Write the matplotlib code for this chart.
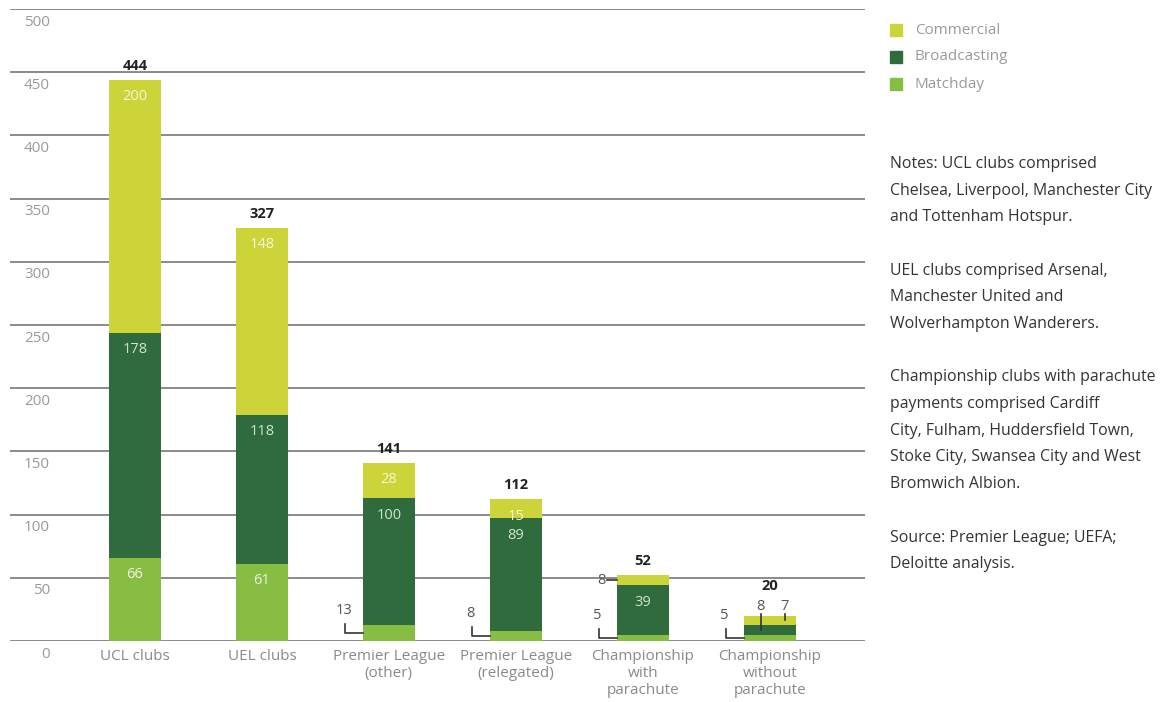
import numpy as np
import matplotlib.pyplot as plt
from matplotlib.transforms import offset_copy, blended_transform_factory

plt.rcParams['font.family'] = ['Open Sans', 'DejaVu Sans']

categories = ['UCL clubs', 'UEL clubs', 'Premier League\n(other)',
              'Premier League\n(relegated)', 'Championship\nwith\nparachute',
              'Championship\nwithout\nparachute']
matchday = [66, 61, 13, 8, 5, 5]
broadcasting = [178, 118, 100, 89, 39, 8]
commercial = [200, 148, 28, 15, 8, 7]
totals = [444, 327, 141, 112, 52, 20]
yticks = [0, 50, 100, 150, 200, 250, 300, 350, 400, 450, 500]

notes = ("Notes: UCL clubs comprised\nChelsea, Liverpool, Manchester City\n"
         "and Tottenham Hotspur.\n\nUEL clubs comprised Arsenal,\n"
         "Manchester United and\nWolverhampton Wanderers.\n\n"
         "Championship clubs with parachute\npayments comprised Cardiff\n"
         "City, Fulham, Huddersfield Town,\nStoke City, Swansea City and West\n"
         "Bromwich Albion.\n\nSource: Premier League; UEFA;\nDeloitte analysis.")

c_com = '#cdd43a'
c_bro = '#2f6b3c'
c_mat = '#88bd43'

fig = plt.figure(figsize=(11.62, 7.02), dpi=100)
ax = fig.add_axes([10 / 1162, 1 - 641 / 702, 855 / 1162, 632 / 702])
x = np.arange(len(categories))
w = 0.41

for v in yticks:
    ax.axhline(v, color='#8a8a8a', lw=1.4, zorder=0)

b1 = ax.bar(x, matchday, w, color=c_mat, zorder=2)
b2 = ax.bar(x, broadcasting, w, bottom=matchday, color=c_bro, zorder=2)
bot3 = np.array(matchday) + np.array(broadcasting)
b3 = ax.bar(x, commercial, w, bottom=bot3, color=c_com, zorder=2)

ax.set_xlim(-0.984, 5.75)
ax.set_ylim(0, 500)
ax.axis('off')

# y tick labels sit just below each gridline
tr = blended_transform_factory(ax.transAxes, ax.transData)
tr = offset_copy(tr, fig=fig, x=0, y=-13, units='dots')
for v in yticks:
    ax.text(0.0466, v, str(v), transform=tr, ha='right', va='center',
            fontsize=11, color='#9a9a9a')

# x category labels
for i, c in enumerate(categories):
    ax.text(i, -6, c, ha='center', va='top', fontsize=11, color='#8a8a8a',
            linespacing=1.2)

# segment labels inside bars
inside = lambda i, top, s, col: ax.annotate(
    s, (i, top), xytext=(0, -17), textcoords='offset pixels', ha='center',
    va='center', fontsize=10.5, color=col)
for i in range(len(categories)):
    if commercial[i] >= 15:
        inside(i, totals[i], str(commercial[i]), '#f4f6d8')
    if broadcasting[i] >= 30:
        inside(i, bot3[i], str(broadcasting[i]), '#cfe6c8')
    if matchday[i] >= 30:
        inside(i, matchday[i], str(matchday[i]), '#f0f6e4')

# small matchday values with L-shaped leaders
for i in range(2, 6):
    ymid = matchday[i] / 2
    xl = i - w / 2
    ax.plot([xl - 0.14, xl - 0.14, xl], [ymid + 7, ymid, ymid],
            color='#333333', lw=1.2, zorder=3)
    ax.text(xl - 0.15, ymid + 12, str(matchday[i]), ha='center', va='bottom',
            fontsize=10.5, color='#555555')

# championship with parachute: commercial 8 to the left
ymid = bot3[4] + commercial[4] / 2
ax.plot([4 - w / 2 - 0.08, 4 - w / 2], [ymid, ymid], color='#333333', lw=1.2, zorder=3)
ax.text(4 - w / 2 - 0.09, ymid, str(commercial[4]), ha='right', va='center',
        fontsize=10.5, color='#555555')

# championship without parachute: broadcasting and commercial above
yb = matchday[5] + broadcasting[5] / 2
ax.plot([4.93, 4.93], [yb, 21], color='#333333', lw=1.2, zorder=3)
ax.text(4.93, 21.5, str(broadcasting[5]), ha='center', va='bottom',
        fontsize=10.5, color='#555555')
yc = bot3[5] + commercial[5] / 2
ax.plot([5.12, 5.12], [yc, 21], color='#333333', lw=1.2, zorder=3)
ax.text(5.12, 21.5, str(commercial[5]), ha='center', va='bottom',
        fontsize=10.5, color='#555555')

# totals
for i, t in enumerate(totals):
    off = 30 if i == 5 else 14
    ax.annotate(str(t), (i, t), xytext=(0, off), textcoords='offset pixels',
                ha='center', va='center', fontsize=10.5, fontweight='bold',
                color='#222222')

# legend
for k, (lab, col) in enumerate([('Commercial', c_com), ('Broadcasting', c_bro),
                                ('Matchday', c_mat)]):
    yy = 1 - (30 + 27 * k) / 702
    fig.patches.append(plt.Rectangle((890 / 1162, yy - 6 / 702), 12 / 1162, 12 / 702,
                                     color=col, transform=fig.transFigure, figure=fig))
    fig.text(915 / 1162, yy, lab, ha='left', va='center', fontsize=11, color='#9a9a9a')

fig.text(890 / 1162, 1 - 156 / 702, notes, ha='left', va='top', fontsize=11.4,
         color='#333333', linespacing=1.89)

fig.savefig('out.png', dpi=100)
